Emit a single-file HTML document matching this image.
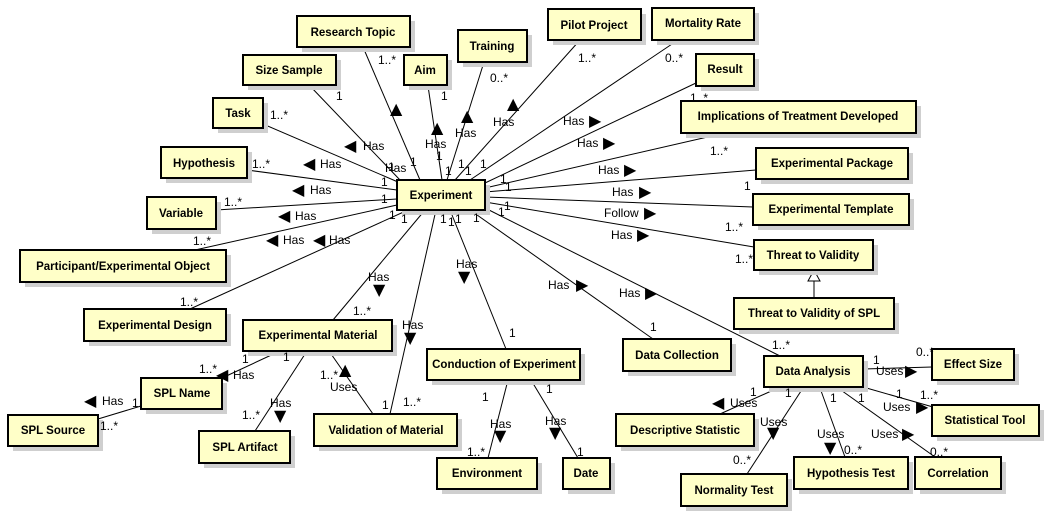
<!DOCTYPE html>
<html><head><meta charset="utf-8"><style>
body{margin:0;background:#fff}
svg{display:block}
.b{fill:#ffffc8;stroke:#000;stroke-width:2}
.s{fill:#cfcfcf}
.t{font:bold 11.5px "Liberation Sans",Arial,sans-serif;text-anchor:middle}
.l{font:12px "Liberation Sans",Arial,sans-serif}
.a{font:16px "DejaVu Sans",sans-serif}
line{stroke:#000;stroke-width:1}
</style></head><body>
<svg width="1058" height="518" xmlns="http://www.w3.org/2000/svg">
<g>
<line x1="363" y1="47" x2="420" y2="180"/>
<line x1="310" y1="86" x2="400" y2="180"/>
<line x1="428" y1="86" x2="442" y2="180"/>
<line x1="484" y1="62" x2="447" y2="180"/>
<line x1="263" y1="124" x2="398" y2="182"/>
<line x1="247" y1="170" x2="397" y2="190"/>
<line x1="216" y1="210" x2="397" y2="199"/>
<line x1="195" y1="250" x2="397" y2="205"/>
<line x1="580" y1="40" x2="455" y2="180"/>
<line x1="678" y1="40" x2="470" y2="180"/>
<line x1="696" y1="83" x2="485" y2="183"/>
<line x1="725" y1="133" x2="485" y2="188"/>
<line x1="756" y1="170" x2="485" y2="192"/>
<line x1="753" y1="207" x2="485" y2="197"/>
<line x1="754" y1="247" x2="485" y2="202"/>
<line x1="190" y1="309" x2="408" y2="210"/>
<line x1="333" y1="320" x2="425" y2="210"/>
<line x1="390" y1="414" x2="436" y2="210"/>
<line x1="506" y1="349" x2="450" y2="210"/>
<line x1="653" y1="339" x2="470" y2="210"/>
<line x1="780" y1="356" x2="485" y2="208"/>
<line x1="280" y1="351" x2="222" y2="378"/>
<line x1="141" y1="406" x2="98" y2="419"/>
<line x1="307" y1="351" x2="255" y2="431"/>
<line x1="329" y1="351" x2="373" y2="414"/>
<line x1="508" y1="380" x2="488" y2="458"/>
<line x1="531" y1="380" x2="578" y2="458"/>
<line x1="814" y1="298" x2="814" y2="280"/>
<polygon points="814,270 808,281 820,281" fill="#fff" stroke="#000"/>
<line x1="863" y1="369" x2="932" y2="367"/>
<line x1="863" y1="387" x2="933" y2="407"/>
<line x1="778" y1="388" x2="720" y2="414"/>
<line x1="803" y1="388" x2="747" y2="474"/>
<line x1="820" y1="388" x2="845" y2="457"/>
<line x1="838" y1="388" x2="935" y2="457"/>
</g>
<g id="boxes">
<rect class="s" x="302" y="21" width="113" height="31"/><rect class="b" x="297" y="16" width="113" height="31"/><text class="t" x="353" y="36">Research Topic</text>
<rect class="s" x="248" y="60" width="93" height="30"/><rect class="b" x="243" y="55" width="93" height="30"/><text class="t" x="289" y="74">Size Sample</text>
<rect class="s" x="409" y="60" width="43" height="30"/><rect class="b" x="404" y="55" width="43" height="30"/><text class="t" x="425" y="74">Aim</text>
<rect class="s" x="463" y="35" width="69" height="32"/><rect class="b" x="458" y="30" width="69" height="32"/><text class="t" x="492" y="50">Training</text>
<rect class="s" x="218" y="103" width="50" height="30"/><rect class="b" x="213" y="98" width="50" height="30"/><text class="t" x="238" y="117">Task</text>
<rect class="s" x="166" y="152" width="86" height="31"/><rect class="b" x="161" y="147" width="86" height="31"/><text class="t" x="204" y="167">Hypothesis</text>
<rect class="s" x="152" y="202" width="69" height="32"/><rect class="b" x="147" y="197" width="69" height="32"/><text class="t" x="181" y="217">Variable</text>
<rect class="s" x="402" y="185" width="88" height="30"/><rect class="b" x="397" y="180" width="88" height="30"/><text class="t" x="441" y="199">Experiment</text>
<rect class="s" x="25" y="255" width="206" height="32"/><rect class="b" x="20" y="250" width="206" height="32"/><text class="t" x="123" y="270">Participant/Experimental Object</text>
<rect class="s" x="553" y="14" width="93" height="31"/><rect class="b" x="548" y="9" width="93" height="31"/><text class="t" x="594" y="29">Pilot Project</text>
<rect class="s" x="657" y="13" width="102" height="32"/><rect class="b" x="652" y="8" width="102" height="32"/><text class="t" x="703" y="27">Mortality Rate</text>
<rect class="s" x="701" y="59" width="58" height="32"/><rect class="b" x="696" y="54" width="58" height="32"/><text class="t" x="725" y="73">Result</text>
<rect class="s" x="686" y="106" width="235" height="32"/><rect class="b" x="681" y="101" width="235" height="32"/><text class="t" x="798" y="120">Implications of Treatment Developed</text>
<rect class="s" x="761" y="153" width="152" height="31"/><rect class="b" x="756" y="148" width="152" height="31"/><text class="t" x="832" y="167">Experimental Package</text>
<rect class="s" x="758" y="199" width="156" height="31"/><rect class="b" x="753" y="194" width="156" height="31"/><text class="t" x="831" y="213">Experimental Template</text>
<rect class="s" x="759" y="245" width="119" height="30"/><rect class="b" x="754" y="240" width="119" height="30"/><text class="t" x="813" y="259">Threat to Validity</text>
<rect class="s" x="89" y="314" width="142" height="32"/><rect class="b" x="84" y="309" width="142" height="32"/><text class="t" x="155" y="329">Experimental Design</text>
<rect class="s" x="248" y="325" width="149" height="31"/><rect class="b" x="243" y="320" width="149" height="31"/><text class="t" x="318" y="339">Experimental Material</text>
<rect class="s" x="146" y="383" width="81" height="31"/><rect class="b" x="141" y="378" width="81" height="31"/><text class="t" x="182" y="397">SPL Name</text>
<rect class="s" x="13" y="420" width="90" height="31"/><rect class="b" x="8" y="415" width="90" height="31"/><text class="t" x="53" y="434">SPL Source</text>
<rect class="s" x="204" y="436" width="91" height="32"/><rect class="b" x="199" y="431" width="91" height="32"/><text class="t" x="245" y="451">SPL Artifact</text>
<rect class="s" x="319" y="419" width="143" height="32"/><rect class="b" x="314" y="414" width="143" height="32"/><text class="t" x="386" y="434">Validation of Material</text>
<rect class="s" x="432" y="354" width="153" height="31"/><rect class="b" x="427" y="349" width="153" height="31"/><text class="t" x="504" y="368">Conduction of Experiment</text>
<rect class="s" x="442" y="463" width="100" height="31"/><rect class="b" x="437" y="458" width="100" height="31"/><text class="t" x="487" y="477">Environment</text>
<rect class="s" x="739" y="303" width="160" height="31"/><rect class="b" x="734" y="298" width="160" height="31"/><text class="t" x="814" y="317">Threat to Validity of SPL</text>
<rect class="s" x="628" y="344" width="108" height="32"/><rect class="b" x="623" y="339" width="108" height="32"/><text class="t" x="677" y="359">Data Collection</text>
<rect class="s" x="769" y="361" width="99" height="31"/><rect class="b" x="764" y="356" width="99" height="31"/><text class="t" x="813" y="375">Data Analysis</text>
<rect class="s" x="937" y="354" width="82" height="31"/><rect class="b" x="932" y="349" width="82" height="31"/><text class="t" x="973" y="368">Effect Size</text>
<rect class="s" x="937" y="410" width="107" height="31"/><rect class="b" x="932" y="405" width="107" height="31"/><text class="t" x="985" y="424">Statistical Tool</text>
<rect class="s" x="621" y="419" width="138" height="32"/><rect class="b" x="616" y="414" width="138" height="32"/><text class="t" x="685" y="434">Descriptive Statistic</text>
<rect class="s" x="568" y="463" width="47" height="31"/><rect class="b" x="563" y="458" width="47" height="31"/><text class="t" x="586" y="477">Date</text>
<rect class="s" x="686" y="479" width="106" height="32"/><rect class="b" x="681" y="474" width="106" height="32"/><text class="t" x="734" y="494">Normality Test</text>
<rect class="s" x="799" y="462" width="114" height="32"/><rect class="b" x="794" y="457" width="114" height="32"/><text class="t" x="851" y="477">Hypothesis Test</text>
<rect class="s" x="920" y="462" width="86" height="32"/><rect class="b" x="915" y="457" width="86" height="32"/><text class="t" x="958" y="477">Correlation</text>
</g>
<g class="l">
<text x="378" y="64">1..*</text><text x="336" y="100">1</text><text x="441" y="100">1</text><text x="490" y="82">0..*</text>
<text x="270" y="119">1..*</text><text x="252" y="168">1..*</text><text x="224" y="206">1..*</text><text x="193" y="245">1..*</text>
<text x="385" y="172">Has</text><text x="363" y="150">Has</text><text x="320" y="168">Has</text><text x="310" y="194">Has</text><text x="295" y="220">Has</text><text x="283" y="244">Has</text><text x="329" y="244">Has</text>
<text x="425" y="148">Has</text><text x="455" y="137">Has</text><text x="493" y="126">Has</text>
<text x="388" y="171">1</text><text x="410" y="166">1</text><text x="381" y="186">1</text><text x="381" y="203">1</text><text x="389" y="219">1</text><text x="401" y="223">1</text>
<text x="436" y="160">1</text><text x="458" y="168">1</text><text x="445" y="175">1</text><text x="465" y="175">1</text><text x="480" y="168">1</text>
<text x="500" y="183">1</text><text x="505" y="191">1</text><text x="504" y="210">1</text><text x="498" y="216">1</text><text x="440" y="223">1</text><text x="448" y="226">1</text><text x="455" y="223">1</text><text x="473" y="222">1</text>
<text x="578" y="62">1..*</text><text x="665" y="62">0..*</text><text x="690" y="102">1..*</text><text x="710" y="155">1..*</text><text x="744" y="190">1</text><text x="725" y="231">1..*</text><text x="735" y="263">1..*</text>
<text x="563" y="125">Has</text><text x="577" y="147">Has</text><text x="598" y="174">Has</text><text x="612" y="196">Has</text><text x="604" y="217">Follow</text><text x="611" y="239">Has</text>
<text x="180" y="306">1..*</text><text x="368" y="281">Has</text><text x="353" y="315">1..*</text><text x="402" y="329">Has</text><text x="456" y="268">Has</text><text x="509" y="337">1</text>
<text x="242" y="363">1</text><text x="283" y="361">1</text><text x="199" y="373">1..*</text><text x="233" y="379">Has</text>
<text x="102" y="405">Has</text><text x="132" y="407">1</text><text x="100" y="430">1..*</text>
<text x="270" y="407">Has</text><text x="242" y="419">1..*</text><text x="320" y="379">1..*</text><text x="330" y="391">Uses</text><text x="382" y="409">1</text><text x="403" y="406">1..*</text>
<text x="482" y="401">1</text><text x="490" y="428">Has</text><text x="467" y="456">1..*</text>
<text x="548" y="289">Has</text><text x="619" y="297">Has</text><text x="650" y="331">1</text><text x="772" y="349">1..*</text>
<text x="873" y="364">1</text><text x="876" y="375">Uses</text><text x="916" y="356">0..*</text>
<text x="896" y="398">1</text><text x="920" y="399">1..*</text><text x="883" y="411">Uses</text>
<text x="730" y="407">Uses</text><text x="750" y="396">1</text><text x="785" y="397">1</text>
<text x="760" y="426">Uses</text><text x="733" y="464">0..*</text>
<text x="830" y="402">1</text><text x="858" y="402">1</text><text x="817" y="438">Uses</text><text x="844" y="454">0..*</text>
<text x="871" y="438">Uses</text><text x="930" y="456">0..*</text>
<text x="546" y="393">1</text><text x="545" y="425">Has</text><text x="577" y="456">1</text>
</g>
<g class="a">
<text x="390" y="114">▲</text><text x="431" y="133">▲</text><text x="461" y="121">▲</text><text x="507" y="109">▲</text>
<text x="344" y="151">◀</text><text x="303" y="169">◀</text><text x="292" y="195">◀</text><text x="278" y="221">◀</text><text x="266" y="245">◀</text><text x="313" y="245">◀</text>
<text x="589" y="126">▶</text><text x="603" y="148">▶</text><text x="624" y="175">▶</text><text x="639" y="197">▶</text><text x="644" y="218">▶</text><text x="637" y="240">▶</text>
<text x="373" y="295">▼</text><text x="404" y="343">▼</text><text x="458" y="282">▼</text>
<text x="216" y="380">◀</text><text x="84" y="406">◀</text><text x="274" y="421">▼</text><text x="339" y="375">▲</text><text x="494" y="441">▼</text><text x="549" y="438">▼</text>
<text x="576" y="290">▶</text><text x="645" y="298">▶</text>
<text x="905" y="376">▶</text><text x="916" y="412">▶</text><text x="712" y="408">◀</text><text x="767" y="438">▼</text><text x="824" y="453">▼</text><text x="902" y="439">▶</text>
</g>
</svg>
</body></html>
